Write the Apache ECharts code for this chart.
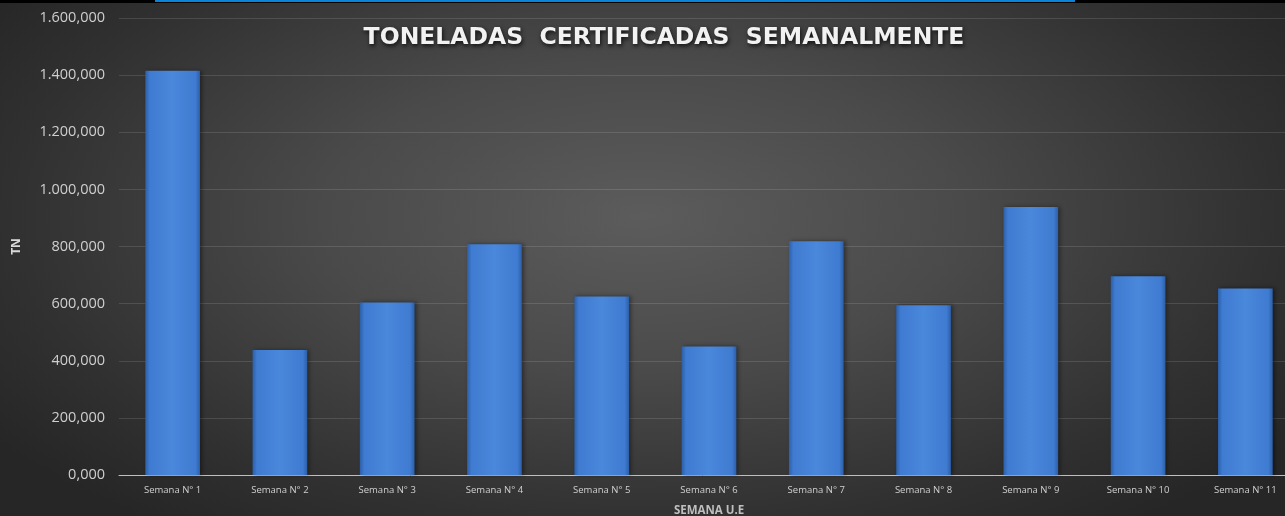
<!DOCTYPE html>
<html><head><meta charset="utf-8">
<script src="https://cdn.jsdelivr.net/npm/echarts@6/dist/echarts.min.js"></script>
<style>
html,body{margin:0;padding:0;background:#000;}
#c{width:1285px;height:516px;background:radial-gradient(ellipse 62% 75% at 50% 42%, #5c5c5c 0%, #4a4a4a 40%, #303030 80%, #262626 100%);}
</style></head><body>
<div id="c"></div>
<script>
const categories = ['Semana N° 1','Semana N° 2','Semana N° 3','Semana N° 4','Semana N° 5','Semana N° 6','Semana N° 7','Semana N° 8','Semana N° 9','Semana N° 10','Semana N° 11'];
const toneladas = [1415, 438, 604, 808, 625, 450, 818, 594, 938, 696, 653];
const titleText = 'TONELADAS  CERTIFICADAS  SEMANALMENTE';
const yName = 'TN';
const xName = 'SEMANA U.E';

function fmt(v){
  const s = Number(v).toFixed(3).split('.');
  return s[0].replace(/\B(?=(\d{3})+(?!\d))/g,'.') + ',' + s[1];
}
const chart = echarts.init(document.getElementById('c'), null, {renderer:'canvas'});
chart.setOption({
  backgroundColor:'transparent',
  animation:false,
  title:{text:titleText,left:659,top:21,textAlign:'center',
    textStyle:{color:'#f2f2f2',fontSize:23.5,fontWeight:'bold',fontFamily:'DejaVu Sans',
      textShadowColor:'rgba(0,0,0,0.8)',textShadowBlur:4,textShadowOffsetX:1,textShadowOffsetY:2}},
  graphic:[
    {type:'rect',left:0,top:0,shape:{width:1285,height:3},style:{fill:'#000'},z:100},
    {type:'rect',left:155,top:0,shape:{width:920,height:2},style:{fill:'#0a84d8'},z:101}
  ],
  grid:{left:119,top:18,width:1180,bottom:41,containLabel:false,outerBoundsMode:'none'},
  xAxis:{type:'category',data:categories,
    name:xName,nameLocation:'middle',nameGap:30,
    nameTextStyle:{color:'#bfbfbf',fontSize:11.5,fontWeight:'bold',fontFamily:'Open Sans'},
    axisLine:{lineStyle:{color:'#bfbfbf',width:1}},axisTick:{show:false},
    axisLabel:{color:'#d0d0d0',fontSize:9.5,fontFamily:'Open Sans',margin:10,interval:0}},
  yAxis:{type:'value',min:0,max:1600,interval:200,
    name:yName,nameLocation:'middle',nameGap:96,nameRotate:90,
    nameTextStyle:{color:'#d9d9d9',fontSize:12,fontWeight:'bold',fontFamily:'Open Sans'},
    axisLine:{show:false},axisTick:{show:false},
    splitLine:{lineStyle:{color:'rgba(255,255,255,0.12)',width:1}},
    axisLabel:{color:'#cfcfcf',fontSize:14.5,fontFamily:'Open Sans',margin:14,formatter:fmt}},
  series:[{type:'bar',data:toneladas,barWidth:'51%',
    itemStyle:{
      color:{type:'linear',x:0,y:0,x2:1,y2:0,colorStops:[
        {offset:0,color:'#2c5fa8'},{offset:0.08,color:'#3f7bd0'},{offset:0.5,color:'#4a88dc'},
        {offset:0.92,color:'#3f7bd0'},{offset:1,color:'#2c5fa8'}]},
      shadowColor:'rgba(0,0,0,0.4)',shadowBlur:4,shadowOffsetX:2,shadowOffsetY:0
    }}]
});
</script>
</body></html>
